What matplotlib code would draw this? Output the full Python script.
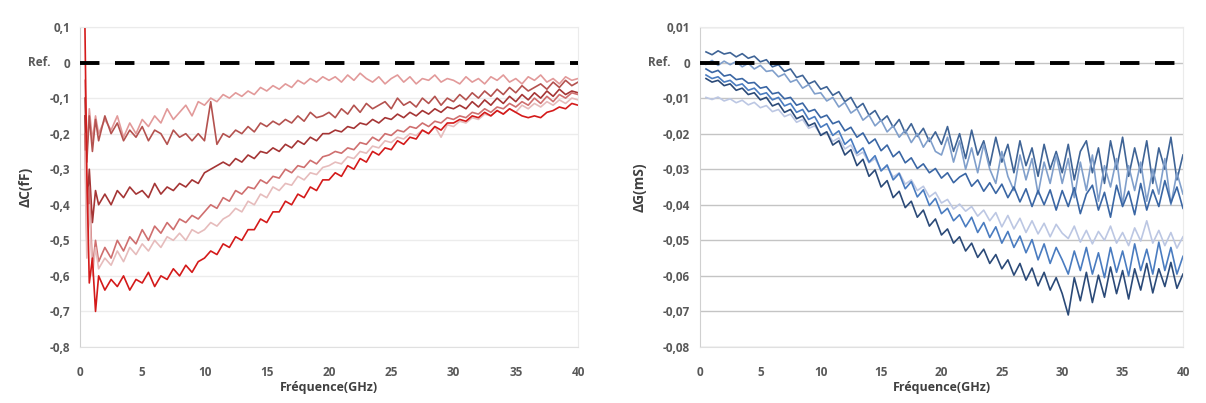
import matplotlib
matplotlib.use("Agg")
import matplotlib.pyplot as plt

# frequency grids (GHz)
freq_c = [0.4, 0.55, 0.75, 1.0, 1.25, 1.5] + [2.0 + 0.5 * k for k in range(77)]
freq_g = [0.5 + 0.5 * k for k in range(80)]

# capacitance shifts (fF), left plot
c1 = [-0.05, -0.25, -0.13, -0.22, -0.15, -0.2,
      -0.16, -0.19, -0.15, -0.21, -0.17, -0.2, -0.16, -0.18, -0.15, -0.17, -0.13, -0.16, -0.14, -0.12, -0.15, -0.11,
      -0.12, -0.1, -0.11, -0.09, -0.1, -0.085, -0.095, -0.08, -0.09, -0.07, -0.08, -0.065, -0.075, -0.06, -0.07, -0.05, -0.06, -0.045, -0.055, -0.04,
      -0.05, -0.04, -0.055, -0.035, -0.05, -0.03, -0.045, -0.055, -0.04, -0.06, -0.045, -0.035, -0.055, -0.04, -0.06, -0.045, -0.05, -0.035, -0.055, -0.045,
      -0.05, -0.06, -0.04, -0.055, -0.045, -0.06, -0.04, -0.05, -0.035, -0.055, -0.045, -0.06, -0.04, -0.05, -0.035, -0.055, -0.045, -0.06, -0.04, -0.05, -0.045]
c2 = [-0.1, -0.28, -0.15, -0.25, -0.16, -0.22,
      -0.15, -0.2, -0.17, -0.22, -0.19, -0.21, -0.18, -0.22, -0.19, -0.2, -0.23, -0.19, -0.21, -0.2, -0.22, -0.2,
      -0.22, -0.11, -0.23, -0.2, -0.21, -0.19, -0.2, -0.18, -0.195, -0.17, -0.18, -0.165, -0.175, -0.16, -0.17, -0.15, -0.165, -0.14, -0.155, -0.15,
      -0.14, -0.155, -0.13, -0.145, -0.12, -0.14, -0.115, -0.13, -0.12, -0.11, -0.13, -0.1, -0.12, -0.11, -0.125, -0.1, -0.115, -0.095, -0.12, -0.1,
      -0.11, -0.09, -0.105, -0.085, -0.1, -0.08, -0.095, -0.075, -0.09, -0.07, -0.085, -0.065, -0.08, -0.07, -0.06, -0.075, -0.055, -0.07, -0.05, -0.065, -0.055]
c3 = [-0.15, -0.42, -0.3, -0.45, -0.36, -0.4,
      -0.37, -0.4, -0.36, -0.38, -0.35, -0.37, -0.36, -0.38, -0.34, -0.37, -0.35, -0.36, -0.34, -0.35, -0.33, -0.34,
      -0.31, -0.3, -0.29, -0.28, -0.29, -0.27, -0.28, -0.26, -0.27, -0.25, -0.255, -0.24, -0.25, -0.23, -0.24, -0.22, -0.23, -0.21, -0.22, -0.2,
      -0.2, -0.19, -0.195, -0.18, -0.185, -0.17, -0.175, -0.16, -0.17, -0.155, -0.16, -0.145, -0.155, -0.14, -0.15, -0.135, -0.145, -0.13, -0.14, -0.125,
      -0.13, -0.12, -0.13, -0.11, -0.125, -0.105, -0.12, -0.1, -0.115, -0.095, -0.11, -0.09, -0.105, -0.085, -0.1, -0.08, -0.095, -0.075, -0.09, -0.08, -0.085]
c4 = [-0.2, -0.5, -0.35, -0.58, -0.5, -0.56,
      -0.52, -0.55, -0.5, -0.53, -0.49, -0.51, -0.47, -0.5, -0.46, -0.48, -0.45, -0.47, -0.44, -0.45, -0.43, -0.44,
      -0.42, -0.4, -0.41, -0.38, -0.39, -0.36, -0.37, -0.35, -0.355, -0.33, -0.34, -0.32, -0.325, -0.3, -0.31, -0.29, -0.295, -0.275, -0.285, -0.265,
      -0.26, -0.25, -0.255, -0.24, -0.245, -0.225, -0.23, -0.21, -0.22, -0.2, -0.205, -0.19, -0.195, -0.18, -0.185, -0.17, -0.18, -0.165, -0.17, -0.155,
      -0.16, -0.15, -0.155, -0.14, -0.145, -0.13, -0.14, -0.125, -0.13, -0.115, -0.125, -0.11, -0.12, -0.1, -0.115, -0.095, -0.11, -0.09, -0.1, -0.085, -0.09]
c5 = [-0.25, -0.55, -0.4, -0.6, -0.52, -0.58,
      -0.55, -0.57, -0.53, -0.56, -0.52, -0.54, -0.51, -0.53, -0.5, -0.52, -0.49, -0.5, -0.48, -0.5, -0.47, -0.48,
      -0.47, -0.45, -0.46, -0.44, -0.43, -0.41, -0.42, -0.39, -0.4, -0.37, -0.38, -0.35, -0.36, -0.34, -0.345, -0.32, -0.33, -0.31, -0.315, -0.295,
      -0.29, -0.28, -0.285, -0.265, -0.27, -0.25, -0.255, -0.235, -0.24, -0.22, -0.225, -0.21, -0.215, -0.2, -0.205, -0.19, -0.2, -0.18, -0.21, -0.175,
      -0.18, -0.165, -0.17, -0.155, -0.16, -0.145, -0.15, -0.135, -0.145, -0.13, -0.14, -0.12, -0.13, -0.115, -0.125, -0.11, -0.12, -0.105, -0.115, -0.1, -0.105]
c6 = [0.1, -0.3, -0.62, -0.55, -0.7, -0.6,
      -0.64, -0.61, -0.63, -0.6, -0.64, -0.61, -0.62, -0.59, -0.63, -0.6, -0.61, -0.58, -0.6, -0.57, -0.59, -0.56,
      -0.55, -0.53, -0.54, -0.51, -0.52, -0.49, -0.5, -0.47, -0.47, -0.44, -0.45, -0.42, -0.42, -0.39, -0.4, -0.37, -0.38, -0.35, -0.36, -0.33,
      -0.33, -0.31, -0.32, -0.29, -0.3, -0.27, -0.28, -0.25, -0.26, -0.24, -0.245, -0.22, -0.23, -0.21, -0.215, -0.19, -0.2, -0.18, -0.19, -0.17,
      -0.17, -0.16, -0.165, -0.15, -0.155, -0.14, -0.15, -0.135, -0.145, -0.13, -0.14, -0.15, -0.155, -0.15, -0.155, -0.14, -0.135, -0.125, -0.13, -0.115, -0.12]

# conductance shifts (mS), right plot
g1 = [0.003, 0.0022, 0.0033, 0.0024, 0.0028, 0.0016, 0.0025, 0.0012, 0.0018, 0.0002, 0.0008, -0.0012, -0.0006, -0.0025, -0.0018, -0.0042, -0.0036, -0.006, -0.0052,
      -0.0075, -0.0068, -0.0092, -0.0082, -0.011, -0.0098, -0.0128, -0.0115, -0.0148, -0.0135, -0.0165, -0.015, -0.0182, -0.016, -0.0198, -0.0172, -0.0208, -0.0185, -0.0222, -0.0195,
      -0.023, -0.018, -0.025, -0.02, -0.027, -0.019, -0.026, -0.022, -0.029, -0.021, -0.028, -0.023, -0.031, -0.022, -0.029, -0.024, -0.032, -0.023, -0.03, -0.025,
      -0.031, -0.023, -0.033, -0.025, -0.022, -0.031, -0.024, -0.034, -0.022, -0.03, -0.021, -0.032, -0.024, -0.031, -0.022, -0.034, -0.024, -0.03, -0.021, -0.033, -0.026]
g2 = [-0.0005, 0.0006, -0.0008, 0.0004, -0.0006, 0.0003, -0.0012, -0.0002, -0.0018, -0.0008, -0.0025, -0.0022, -0.004, -0.0032, -0.0055, -0.0048, -0.0072, -0.0062, -0.0088,
      -0.0085, -0.0108, -0.0098, -0.0125, -0.0112, -0.0142, -0.013, -0.0162, -0.0148, -0.0178, -0.0162, -0.0195, -0.0178, -0.021, -0.019, -0.0225, -0.02, -0.0238, -0.0212, -0.025,
      -0.026, -0.021, -0.028, -0.022, -0.03, -0.024, -0.031, -0.023, -0.03, -0.034, -0.025, -0.032, -0.036, -0.026, -0.033, -0.027, -0.037, -0.028, -0.034, -0.026,
      -0.034, -0.027, -0.038, -0.028, -0.036, -0.026, -0.039, -0.029, -0.035, -0.027, -0.04, -0.029, -0.036, -0.028, -0.039, -0.03, -0.037, -0.027, -0.04, -0.031, -0.037]
g3 = [-0.0018, -0.0028, -0.0022, -0.0038, -0.0034, -0.0048, -0.0045, -0.0058, -0.0056, -0.0072, -0.0068, -0.0088, -0.0084, -0.0102, -0.0098, -0.012, -0.0114, -0.0138, -0.0132,
      -0.0155, -0.0148, -0.0172, -0.0165, -0.0192, -0.0182, -0.021, -0.0198, -0.0228, -0.0215, -0.0248, -0.0232, -0.0265, -0.025, -0.0282, -0.0268, -0.0298, -0.0285, -0.031, -0.0298,
      -0.0325, -0.031, -0.0338, -0.0322, -0.0312, -0.0348, -0.033, -0.0362, -0.0338, -0.0368, -0.0342, -0.038, -0.035, -0.0392, -0.0355, -0.0405, -0.036, -0.04, -0.0358, -0.0415,
      -0.036, -0.0405, -0.0352, -0.0425, -0.037, -0.0345, -0.0415, -0.0365, -0.0435, -0.0345, -0.0405, -0.0362, -0.0428, -0.034, -0.0415, -0.0358, -0.0405, -0.0332, -0.0395, -0.035, -0.041]
g4 = [-0.0098, -0.0104, -0.0097, -0.0108, -0.0102, -0.0113, -0.0106, -0.0119, -0.0112, -0.0127, -0.0121, -0.0138, -0.0132, -0.0152, -0.0145, -0.0168, -0.016, -0.0185, -0.0178,
      -0.0202, -0.0195, -0.0222, -0.0212, -0.0243, -0.0232, -0.0262, -0.0252, -0.0282, -0.027, -0.0302, -0.0292, -0.0322, -0.031, -0.0342, -0.033, -0.036, -0.0348, -0.0378, -0.0365,
      -0.0395, -0.0385, -0.0412, -0.0398, -0.0418, -0.0405, -0.0432, -0.0415, -0.0445, -0.0422, -0.0462, -0.043, -0.0468, -0.0438, -0.0478, -0.0445, -0.0482, -0.0452, -0.049, -0.0455,
      -0.048, -0.0495, -0.046, -0.0505, -0.0472, -0.051, -0.0475, -0.05, -0.046, -0.0508, -0.0478, -0.0515, -0.0465, -0.0502, -0.0445, -0.0508, -0.0472, -0.0515, -0.0478, -0.0522, -0.049]
g5 = [-0.0035, -0.0045, -0.004, -0.0055, -0.005, -0.0065, -0.006, -0.0078, -0.0072, -0.009, -0.0085, -0.0105, -0.0098, -0.0122, -0.0115, -0.014, -0.0132, -0.016, -0.0152,
      -0.0182, -0.0172, -0.0205, -0.0192, -0.023, -0.0215, -0.0255, -0.024, -0.028, -0.0262, -0.0305, -0.0288, -0.033, -0.0312, -0.0355, -0.0335, -0.0378, -0.0358, -0.0402, -0.0382,
      -0.0425, -0.041, -0.0445, -0.0428, -0.0462, -0.0435, -0.0478, -0.045, -0.0492, -0.0462, -0.0508, -0.0475, -0.052, -0.0488, -0.0535, -0.0498, -0.0555, -0.051, -0.0565, -0.052,
      -0.0555, -0.0595, -0.053, -0.0585, -0.052, -0.0595, -0.0535, -0.0605, -0.052, -0.059, -0.053, -0.06, -0.051, -0.0585, -0.0525, -0.0595, -0.0505, -0.0585, -0.052, -0.0595, -0.0545]
g6 = [-0.0045, -0.0055, -0.005, -0.0065, -0.006, -0.0078, -0.0072, -0.009, -0.0085, -0.0105, -0.0098, -0.0122, -0.0115, -0.014, -0.0132, -0.0158, -0.015, -0.0178, -0.017,
      -0.0205, -0.0195, -0.0232, -0.022, -0.026, -0.0245, -0.029, -0.0272, -0.032, -0.0302, -0.035, -0.0332, -0.038, -0.0362, -0.0408, -0.039, -0.0435, -0.0415, -0.046, -0.044,
      -0.0485, -0.0468, -0.0508, -0.049, -0.053, -0.0508, -0.0548, -0.0525, -0.0565, -0.054, -0.058, -0.0555, -0.0598, -0.0565, -0.0612, -0.0578, -0.0628, -0.059, -0.064, -0.0605,
      -0.065, -0.071, -0.0605, -0.067, -0.059, -0.0675, -0.0598, -0.066, -0.0575, -0.065, -0.0585, -0.0665, -0.058, -0.064, -0.0565, -0.0648, -0.058, -0.063, -0.0562, -0.0635, -0.0595]

c_series = [c1, c2, c3, c4, c5, c6]
c_colors = ["#e29a9a", "#b4524f", "#a53535", "#cf6f6f", "#e6bcbc", "#d41a1a"]
g_series = [g1, g2, g3, g4, g5, g6]
g_colors = ["#3f6496", "#809fcb", "#3a66a4", "#bcc7e3", "#4a7cc0", "#2b4a78"]

c_ticks = [0.1, 0.0, -0.1, -0.2, -0.3, -0.4, -0.5, -0.6, -0.7, -0.8]
g_ticks = [0.01, 0.0, -0.01, -0.02, -0.03, -0.04, -0.05, -0.06, -0.07, -0.08]
x_ticks = [0, 5, 10, 15, 20, 25, 30, 35, 40]

plt.rcParams['font.family'] = ['Open Sans', 'DejaVu Sans']

fig = plt.figure(figsize=(12.06, 4.03), dpi=100)
ax1 = fig.add_axes([0.0663, 0.139, 0.413, 0.794])
ax2 = fig.add_axes([0.5804, 0.139, 0.4005, 0.794])


def style(ax, ticks, ndec, grid_col, ylabel, ypad):
    ax.set_xlim(0, 40)
    ax.set_ylim(ticks[-1], ticks[0])
    ax.set_yticks(ticks)
    ax.set_yticklabels([(("%." + str(ndec) + "f") % t).replace(".", ",") if t != 0 else "0" for t in ticks])
    ax.set_xticks(x_ticks)
    ax.tick_params(length=0, labelsize=8.5, labelcolor="#595959")
    ax.tick_params(axis="x", pad=14)
    ax.tick_params(axis="y", pad=7)
    for lab in ax.get_xticklabels() + ax.get_yticklabels():
        lab.set_fontweight("bold")
    ax.grid(axis="y", color=grid_col, lw=1.0)
    ax.set_axisbelow(True)
    for s in ax.spines.values():
        s.set_color("#ebebeb")
        s.set_linewidth(0.8)
    ax.spines["left"].set_color("#d0d0d0")
    ax.spines["bottom"].set_color("#e0e0e0")
    ax.set_xlabel("Fréquence(GHz)", fontsize=9, fontweight="bold", color="#404040", labelpad=1)
    ax.set_ylabel(ylabel, fontsize=10, fontweight="bold", color="#404040", labelpad=ypad)
    ax.axhline(0, color="black", lw=2.8, ls=(0, (5, 4)), zorder=5)
    ax.text(-0.06, 0, "Ref.", transform=ax.get_yaxis_transform(), ha="right", va="center",
            fontsize=8.5, fontweight="bold", color="#595959")


for ys, col in zip(c_series, c_colors):
    ax1.plot(freq_c, ys, color=col, lw=1.2)
for ys, col in zip(g_series, g_colors):
    ax2.plot(freq_g, ys, color=col, lw=1.2)

style(ax1, c_ticks, 1, "#ececec", "ΔC(fF)", 12)
style(ax2, g_ticks, 2, "#c4c4c4", "ΔG(mS)", 12)

fig.savefig("out.png", dpi=100)
